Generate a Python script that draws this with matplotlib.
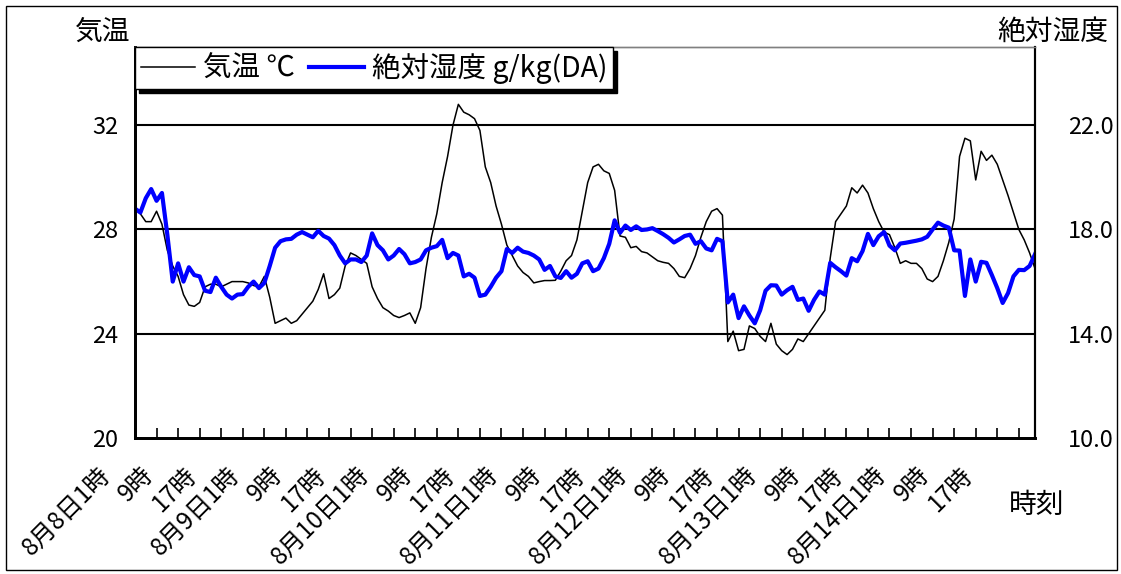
import numpy as np
import matplotlib
matplotlib.use("Agg")
import matplotlib.pyplot as plt
import matplotlib.transforms as mtransforms
from matplotlib.patches import Rectangle

plt.rcParams['font.family'] = ['Noto Sans CJK JP', 'DejaVu Sans']

# 気温 (℃) 8月8日1時〜8月14日24時, 1時間ごと
temp = [
    28.8, 28.6, 28.3, 28.3, 28.7, 28.2, 27.2, 26.6, 26.2, 25.5,
    25.1, 25.05, 25.2, 25.8, 25.9, 25.9, 25.8, 25.9, 26.0, 26.0,
    26.0, 25.95, 25.85, 25.8, 26.2, 25.4, 24.4, 24.5, 24.6, 24.4,
    24.5, 24.75, 25.0, 25.25, 25.7, 26.3, 25.35, 25.5, 25.75, 26.6,
    27.1, 27.0, 26.85, 26.7, 25.8, 25.35, 25.0, 24.87, 24.7, 24.62,
    24.7, 24.8, 24.4, 25.0, 26.5, 27.7, 28.6, 29.8, 30.8, 32.0,
    32.8, 32.5, 32.4, 32.25, 31.8, 30.4, 29.8, 28.9, 28.2, 27.4,
    27.0, 26.6, 26.35, 26.2, 25.95, 26.0, 26.04, 26.04, 26.05, 26.4,
    26.8, 27.0, 27.6, 28.7, 29.8, 30.4, 30.5, 30.25, 30.15, 29.5,
    27.75, 27.7, 27.3, 27.35, 27.15, 27.1, 26.95, 26.8, 26.74, 26.7,
    26.5, 26.2, 26.15, 26.5, 27.0, 27.7, 28.3, 28.7, 28.8, 28.55,
    23.7, 24.1, 23.35, 23.4, 24.3, 24.2, 23.9, 23.7, 24.4, 23.6,
    23.35, 23.2, 23.4, 23.8, 23.7, 24.0, 24.3, 24.6, 24.9, 26.9,
    28.3, 28.6, 28.9, 29.6, 29.4, 29.7, 29.4, 28.8, 28.3, 27.9,
    27.8, 27.3, 26.7, 26.8, 26.7, 26.7, 26.5, 26.1, 26.0, 26.2,
    26.8, 27.5, 28.4, 30.8, 31.5, 31.4, 29.9, 31.0, 30.65, 30.85,
    30.5, 29.9, 29.3, 28.65, 28.0, 27.6, 27.1, 26.5,
]

# 絶対湿度 (g/kg(DA))
humid = [
    18.8, 18.65, 19.2, 19.55, 19.1, 19.4, 17.8, 16.0, 16.7, 16.0,
    16.55, 16.25, 16.2, 15.65, 15.6, 16.15, 15.8, 15.5, 15.35, 15.5,
    15.52, 15.8, 16.0, 15.75, 15.95, 16.6, 17.3, 17.55, 17.62, 17.64,
    17.8, 17.9, 17.8, 17.7, 17.95, 17.75, 17.65, 17.4, 17.0, 16.7,
    16.85, 16.85, 16.75, 17.0, 17.85, 17.4, 17.2, 16.85, 17.0, 17.25,
    17.05, 16.7, 16.75, 16.85, 17.2, 17.3, 17.36, 17.6, 16.9, 17.1,
    17.0, 16.2, 16.3, 16.15, 15.45, 15.5, 15.8, 16.15, 16.4, 17.25,
    17.1, 17.3, 17.15, 17.1, 17.0, 16.85, 16.45, 16.6, 16.2, 16.14,
    16.4, 16.15, 16.3, 16.7, 16.78, 16.4, 16.5, 16.9, 17.45, 18.35,
    17.87, 18.15, 17.98, 18.12, 17.98, 18.0, 18.05, 17.94, 17.82, 17.68,
    17.5, 17.62, 17.75, 17.8, 17.45, 17.55, 17.27, 17.2, 17.64, 17.55,
    15.2, 15.5, 14.6, 15.05, 14.7, 14.4, 14.9, 15.65, 15.86, 15.85,
    15.5, 15.67, 15.8, 15.3, 15.35, 14.88, 15.3, 15.62, 15.5, 16.72,
    16.55, 16.4, 16.23, 16.9, 16.78, 17.17, 17.83, 17.4, 17.74, 17.9,
    17.38, 17.2, 17.46, 17.49, 17.53, 17.57, 17.62, 17.72, 18.0, 18.26,
    18.15, 18.07, 17.2, 17.19, 15.45, 16.85, 16.0, 16.76, 16.72, 16.25,
    15.75, 15.18, 15.56, 16.2, 16.45, 16.44, 16.6, 17.05,
]

days = ['8月8日', '8月9日', '8月10日', '8月11日', '8月12日', '8月13日', '8月14日']
hours = np.arange(len(temp))

# 目盛は4時間ごと、ラベルは8時間ごと (1時は日付付き)
tick_pos = np.arange(0, 168, 4)
label_pos = np.arange(0, 168, 8)
label_txt = []
for p in label_pos:
    if p % 24 == 0:
        label_txt.append(days[p // 24] + '1時')
    else:
        label_txt.append('%d時' % (p % 24 + 1))

W, H = 1121, 574
fig = plt.figure(figsize=(W / 100, H / 100), dpi=100)
ax = fig.add_axes([135 / W, 1 - 438 / H, 900 / W, 391 / H])
ax2 = ax.twinx()

ax.plot(hours, temp, color='black', lw=1.1, label='気温 ℃')
ax2.plot(hours, humid, color='#0000FF', lw=3, label='絶対湿度 g/kg(DA)')

ax.set_xlim(0, 167)
ax.set_ylim(20, 35)
ax2.set_ylim(10, 25)
ax.set_yticks([20, 24, 28, 32])
ax2.set_yticks([10, 14, 18, 22])
ax2.set_yticklabels(['10.0', '14.0', '18.0', '22.0'])
for y in [24, 28, 32]:
    ax.axhline(y, color='black', lw=1.5, zorder=1)

ax.set_xticks(tick_pos)
ax.set_xticklabels([])
# 斜めの時刻ラベル
off = mtransforms.ScaledTranslation(-0.38, -0.24, fig.dpi_scale_trans)
for p, t in zip(label_pos, label_txt):
    ax.text(p, 0, t, transform=ax.get_xaxis_transform() + off, rotation=45,
            ha='right', va='top', rotation_mode='anchor', fontsize=17.5, clip_on=False)

ax.tick_params(axis='x', direction='in', length=7, width=1.2, pad=0)
ax.tick_params(axis='y', direction='in', length=5, width=1.2, labelsize=17, pad=12)
ax2.tick_params(axis='y', direction='in', length=0, labelsize=17, pad=24)

for a in (ax, ax2):
    a.spines['top'].set_color('#808080')
    a.spines['top'].set_linewidth(1)
    a.spines['left'].set_linewidth(2)
    a.spines['bottom'].set_linewidth(2)
    a.spines['right'].set_linewidth(1.5)

h1, l1 = ax.get_legend_handles_labels()
h2, l2 = ax2.get_legend_handles_labels()
ax2.legend(h1 + h2, l1 + l2, loc='upper left', bbox_to_anchor=(135 / W, 1 - 47 / H),
           bbox_transform=fig.transFigure, ncol=2, fontsize=20.5, frameon=True,
           fancybox=False, edgecolor='black', framealpha=1, borderaxespad=0,
           borderpad=0.2, handlelength=1.9, handletextpad=0.3, columnspacing=0.5,
           shadow={'ox': 3, 'oy': -3, 'color': 'black', 'alpha': 1})

fig.text(130 / W, 1 - 32 / H, '気温', ha='right', va='center', fontsize=20)
fig.text(1108 / W, 1 - 32 / H, '絶対湿度', ha='right', va='center', fontsize=20)
fig.text(1037 / W, 1 - 505 / H, '時刻', ha='center', va='center', fontsize=20)

fig.patches.append(Rectangle((6 / W, 4 / H), 1111 / W, 564 / H, transform=fig.transFigure,
                             fill=False, edgecolor='black', lw=1))

fig.savefig('out.png', dpi=100, facecolor='white')
